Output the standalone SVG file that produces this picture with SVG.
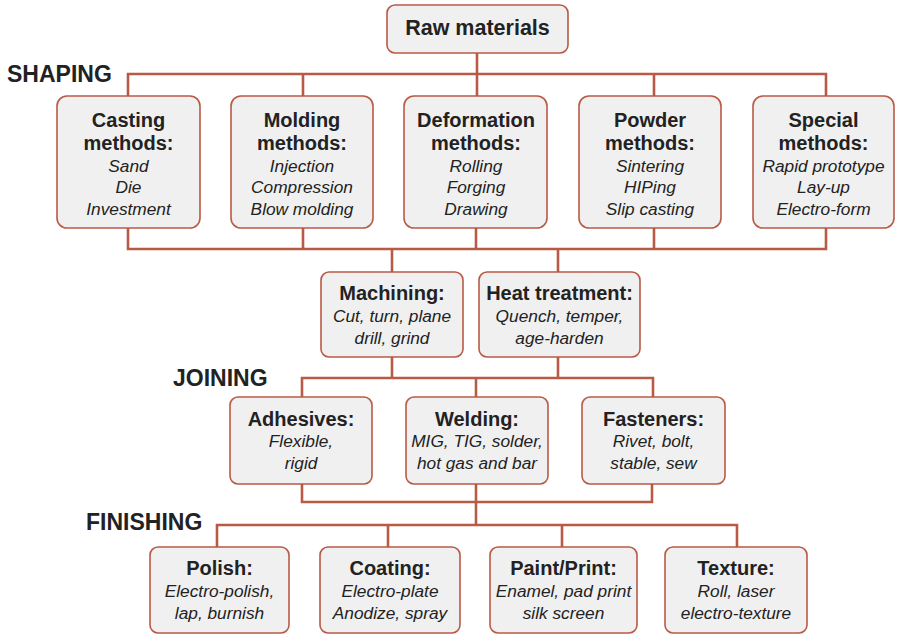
<svg xmlns="http://www.w3.org/2000/svg" width="901" height="634" viewBox="0 0 901 634">
<style>
.box{fill:#f0f0f0;stroke:#b85a45;stroke-width:1.6}
.con{fill:none;stroke:#b85a45;stroke-width:2.6}
.t{font-family:"Liberation Sans",Arial,sans-serif;font-weight:bold;font-size:20px;fill:#222;text-anchor:middle}
.i{font-family:"Liberation Sans",Arial,sans-serif;font-style:italic;font-size:17.3px;fill:#222;text-anchor:middle}
.h{font-family:"Liberation Sans",Arial,sans-serif;font-weight:bold;font-size:23px;fill:#222}
</style>
<rect width="901" height="634" fill="#fff"/>
<g id="connectors">
<path class="con" d="M477 53V74M128 96V74H826V96M303 74V96M477 74V96M654 74V96"/>
<path class="con" d="M128 228V249H826V228M303 228V249M476 228V249M654 228V249M392 249V272M558 249V272"/>
<path class="con" d="M392 357V378M558 357V378M302 397V378H653V397M476 378V397"/>
<path class="con" d="M302 484V502H652V484M476 484V525M217 547V525H737V547M388 525V547M562 525V547"/>
</g>
<text class="h" x="7" y="82">SHAPING</text>
<text class="h" x="173" y="386">JOINING</text>
<text class="h" x="86" y="530">FINISHING</text>
<g id="raw"><rect class="box" x="387" y="5" width="181" height="48" rx="8"/><text class="t" x="477.5" y="35" style="font-size:21.5px">Raw materials</text></g>
<g id="casting"><rect class="box" x="57" y="96" width="143" height="132" rx="10"/><text class="t" x="128.5" y="127">Casting</text><text class="t" x="128.5" y="150">methods:</text><text class="i" x="128.5" y="172">Sand</text><text class="i" x="128.5" y="193">Die</text><text class="i" x="128.5" y="215">Investment</text></g>
<g id="molding"><rect class="box" x="231" y="96" width="142" height="132" rx="10"/><text class="t" x="302" y="127">Molding</text><text class="t" x="302" y="150">methods:</text><text class="i" x="302" y="172">Injection</text><text class="i" x="302" y="193">Compression</text><text class="i" x="302" y="215">Blow molding</text></g>
<g id="deformation"><rect class="box" x="404" y="96" width="143" height="132" rx="10"/><text class="t" x="476" y="127">Deformation</text><text class="t" x="476" y="150">methods:</text><text class="i" x="476" y="172">Rolling</text><text class="i" x="476" y="193">Forging</text><text class="i" x="476" y="215">Drawing</text></g>
<g id="powder"><rect class="box" x="579" y="96" width="142" height="132" rx="10"/><text class="t" x="650" y="127">Powder</text><text class="t" x="650" y="150">methods:</text><text class="i" x="650" y="172">Sintering</text><text class="i" x="650" y="193">HIPing</text><text class="i" x="650" y="215">Slip casting</text></g>
<g id="special"><rect class="box" x="753" y="96" width="141" height="132" rx="10"/><text class="t" x="823.5" y="127">Special</text><text class="t" x="823.5" y="150">methods:</text><text class="i" x="823.5" y="172">Rapid prototype</text><text class="i" x="823.5" y="193">Lay-up</text><text class="i" x="823.5" y="215">Electro-form</text></g>
<g id="machining"><rect class="box" x="321" y="272" width="142" height="85" rx="8"/><text class="t" x="392" y="300">Machining:</text><text class="i" x="392" y="322">Cut, turn, plane</text><text class="i" x="392" y="344">drill, grind</text></g>
<g id="heat"><rect class="box" x="479" y="272" width="161" height="85" rx="8"/><text class="t" x="559.5" y="300">Heat treatment:</text><text class="i" x="559.5" y="322">Quench, temper,</text><text class="i" x="559.5" y="344">age-harden</text></g>
<g id="adhesives"><rect class="box" x="230" y="397" width="142" height="87" rx="8"/><text class="t" x="301" y="426">Adhesives:</text><text class="i" x="301" y="447">Flexible,</text><text class="i" x="301" y="469">rigid</text></g>
<g id="welding"><rect class="box" x="406" y="397" width="142" height="87" rx="8"/><text class="t" x="477" y="426">Welding:</text><text class="i" x="477" y="447">MIG, TIG, solder,</text><text class="i" x="477" y="469">hot gas and bar</text></g>
<g id="fasteners"><rect class="box" x="582" y="397" width="143" height="87" rx="8"/><text class="t" x="653.5" y="426">Fasteners:</text><text class="i" x="653.5" y="447">Rivet, bolt,</text><text class="i" x="653.5" y="469">stable, sew</text></g>
<g id="polish"><rect class="box" x="150" y="547" width="139" height="86" rx="8"/><text class="t" x="219.5" y="575">Polish:</text><text class="i" x="219.5" y="597">Electro-polish,</text><text class="i" x="219.5" y="619">lap, burnish</text></g>
<g id="coating"><rect class="box" x="320" y="547" width="140" height="86" rx="8"/><text class="t" x="390" y="575">Coating:</text><text class="i" x="390" y="597">Electro-plate</text><text class="i" x="390" y="619">Anodize, spray</text></g>
<g id="paint"><rect class="box" x="490" y="547" width="147" height="86" rx="8"/><text class="t" x="563.5" y="575">Paint/Print:</text><text class="i" x="563.5" y="597">Enamel, pad print</text><text class="i" x="563.5" y="619">silk screen</text></g>
<g id="texture"><rect class="box" x="665" y="547" width="142" height="86" rx="8"/><text class="t" x="736" y="575">Texture:</text><text class="i" x="736" y="597">Roll, laser</text><text class="i" x="736" y="619">electro-texture</text></g>
</svg>
